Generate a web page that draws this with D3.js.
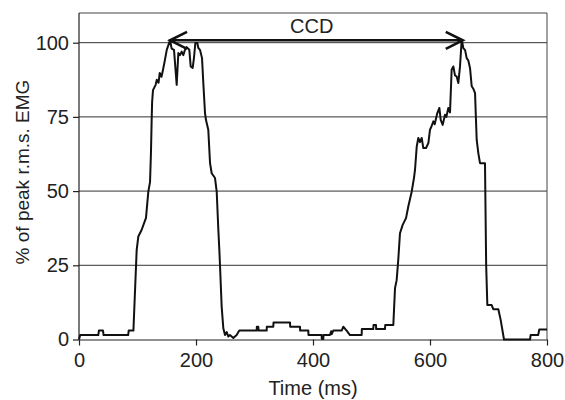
<!DOCTYPE html>
<html>
<head>
<meta charset="utf-8">
<script src="https://cdn.jsdelivr.net/npm/d3@7"></script>
<style>
  html, body { margin: 0; padding: 0; background: #fff; }
  svg { display: block; }
  text { font-family: "Liberation Sans", Arial, Helvetica, sans-serif; fill: #222; }
</style>
</head>
<body>
<svg id="chart" width="565" height="400"></svg>
<script>
// ---- data ----
const timeMs = [0,2,33,34,41,42,84,85,93,98.6,101.4,107,114.5,118.5,121.4,123,124.2,125,126.5,131,133,136,138,141,143,147,150,155.6,158.4,162.4,167,169.8,172.6,175.5,178.3,181.2,184,188.6,190.9,194.3,196.6,198.9,202.3,204,206.8,210.3,212.5,215.4,217,221,224,226.8,232.5,235.4,238.2,239.9,241,243.9,246.7,249.6,252.5,255.3,258,263.8,269.5,274,303.7,304,306.5,307,320.8,321,332.1,332.5,360.7,361,377.8,378,392,392.3,414.8,415,417.6,418,429,431,432,434.7,449,451.8,457.5,463.2,483.2,483.5,503,503.5,507.7,508,523,523.5,537.3,540.2,543,545.8,548.7,553.3,559,562.9,568.7,572.6,574.4,577.3,580,582.9,585.8,588.6,593.2,597.2,600,602,605.7,608,612.5,616,618.3,621.7,625.6,628,631.3,634.2,637,639.9,642.7,645.6,648.4,651.3,654.2,657,660,662.7,665.5,668.4,671.3,674,677,678.6,679.8,682.6,685.5,694,695.7,696,698,705.4,708.2,716.8,720.8,726.5,771,772,785,786.8,800];
const emgPct = [0,1.5,1.5,3,3,1.5,1.5,3,3,30.2,34.7,36.9,41,49.8,53,62.9,74,80,84,85.8,87.5,86.5,89.8,88.5,90.3,94.3,97.6,100.8,98,97.6,85.8,96.5,95.8,97,95.8,97.6,98.5,97.6,92,91.5,95,99.9,99.9,98.2,97.6,94.8,86.4,76.3,74,70.7,59.4,56,54.4,49.8,36.9,30.2,25.1,11,3.8,1.5,2.5,1,1.5,0.5,1.5,3,3,4.3,4.3,3,3,4.3,4.3,5.7,5.7,4.3,4.3,3,3,1.5,1.5,0.2,0.2,1.5,1.5,2.8,1.8,3,3,4.3,3,1.5,1.5,3.5,3.5,4.9,4.9,3.5,3.5,4.9,4.9,17.3,20,27,35.8,38.6,40.9,44.8,49.8,54.4,57.2,65,67.9,66.5,67.9,64.5,64.5,66.2,70.7,71.5,73.5,72.5,76.3,78,74,72.3,75.7,75,78,76.5,90.9,92,89,88.6,86.4,92,101,98.2,97.5,94.8,94,91.5,85.3,84.5,83,74,67.3,62.8,59.4,59.4,30.2,25.1,11.6,11.6,10.2,10.2,6.6,0,0,1.5,1.5,3.4,3.4];
const xTicks = [0,200,400,600,800];
const yTicks = [0,25,50,75,100];
const ccdStart = 155.6, ccdEnd = 656, ccdLevel = 100.8;
const ccdLabel = "CCD";
const xTitle = "Time (ms)";
const yTitle = "% of peak r.m.s. EMG";

// ---- layout ----
const W = 565, H = 400;
const m = {left: 79, right: 18, top: 13, bottom: 60.5};
const svg = d3.select("#chart");
const x = d3.scaleLinear().domain([0, 800]).range([m.left, W - m.right]);
const y = d3.scaleLinear().domain([0, 110]).range([H - m.bottom, m.top]);

// gridlines
svg.append("g").selectAll("line").data(yTicks.filter(d => d > 0)).join("line")
  .attr("x1", x(0)).attr("x2", x(800))
  .attr("y1", d => y(d)).attr("y2", d => y(d))
  .attr("stroke", "#333").attr("stroke-width", 1);

// frame top/right
svg.append("path")
  .attr("d", `M${x(0)},${y(110)}H${x(800)}V${y(0)}`)
  .attr("fill", "none").attr("stroke", "#444").attr("stroke-width", 1);

// axes
const fs = "20px";
const gx = svg.append("g").attr("transform", `translate(0,${y(0)})`)
  .call(d3.axisBottom(x).tickValues(xTicks).tickSize(6).tickPadding(7).tickSizeOuter(0));
const gy = svg.append("g").attr("transform", `translate(${x(0)},0)`)
  .call(d3.axisLeft(y).tickValues(yTicks).tickSize(6).tickPadding(4).tickSizeOuter(0));
[gx, gy].forEach(g => {
  g.select(".domain").attr("stroke", "#222").attr("stroke-width", 1.2);
  g.selectAll(".tick line").attr("stroke", "#222").attr("stroke-width", 1.2);
  g.selectAll(".tick text").attr("font-size", fs).attr("fill", "#222")
    .style("font-family", '"Liberation Sans", Arial, sans-serif');
});
gy.select(".domain").attr("d", `M0,${y(0)}V${y(110)}`);

// curve
svg.append("path")
  .datum(timeMs.map((t, i) => [t, emgPct[i]]))
  .attr("d", d3.line().x(d => x(d[0])).y(d => y(d[1])))
  .attr("fill", "none").attr("stroke", "#111").attr("stroke-width", 2)
  .attr("stroke-linejoin", "round");

// CCD arrow
const ay = y(ccdLevel), ax1 = x(ccdStart), ax2 = x(ccdEnd);
const armX = 17, armY = 8.5;
svg.append("path")
  .attr("d", `M${ax1},${ay}H${ax2}` +
    `M${ax1 + armX},${ay - armY}L${ax1},${ay}L${ax1 + armX},${ay + armY}` +
    `M${ax2 - armX},${ay - armY}L${ax2},${ay}L${ax2 - armX},${ay + armY}`)
  .attr("fill", "none").attr("stroke", "#111").attr("stroke-width", 2.6)
  .attr("stroke-linejoin", "miter");
svg.append("text").attr("x", 311.7).attr("y", 33.3)
  .attr("text-anchor", "middle").attr("font-size", fs).text(ccdLabel);

// titles
svg.append("text").attr("x", (x(0) + x(800)) / 2).attr("y", 394.5)
  .attr("text-anchor", "middle").attr("font-size", fs).text(xTitle);
svg.append("text").attr("transform", `translate(29,172) rotate(-90)`)
  .attr("text-anchor", "middle").attr("font-size", "19px").text(yTitle);
</script>
</body>
</html>
